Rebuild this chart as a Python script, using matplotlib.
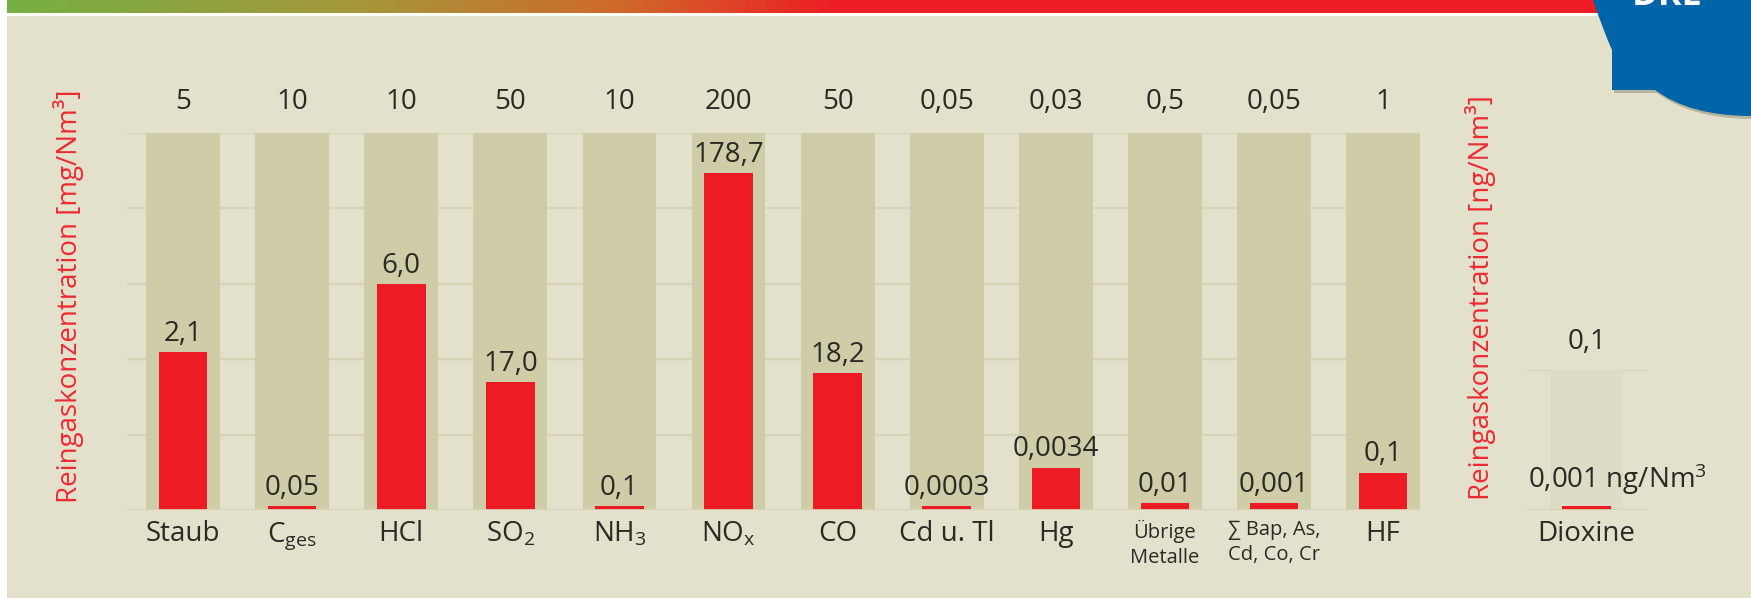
import numpy as np
import matplotlib
matplotlib.use('Agg')
import matplotlib.pyplot as plt
from matplotlib.patches import Rectangle, PathPatch
from matplotlib.path import Path
from matplotlib.colors import LinearSegmentedColormap

plt.rcParams['font.family'] = ['Open Sans', 'DejaVu Sans']
plt.rcParams['mathtext.fontset'] = 'custom'
plt.rcParams['mathtext.rm'] = 'Open Sans'
plt.rcParams['mathtext.it'] = 'Open Sans'

# data
categories = ['Staub', r'$\mathregular{C_{ges}}$', 'HCl', r'$\mathregular{SO_2}$',
              r'$\mathregular{NH_3}$', r'$\mathregular{NO_x}$', 'CO', 'Cd u. Tl', 'Hg',
              'Übrige\nMetalle', '∑ Bap, As,\nCd, Co, Cr', 'HF']
limits = [5, 10, 10, 50, 10, 200, 50, 0.05, 0.03, 0.5, 0.05, 1]
limit_labels = ['5', '10', '10', '50', '10', '200', '50', '0,05', '0,03', '0,5', '0,05', '1']
values = [2.1, 0.05, 6.0, 17.0, 0.1, 178.7, 18.2, 0.0003, 0.0034, 0.01, 0.001, 0.1]
value_labels = ['2,1', '0,05', '6,0', '17,0', '0,1', '178,7', '18,2', '0,0003',
                '0,0034', '0,01', '0,001', '0,1']

diox_category = 'Dioxine'
diox_limit = 0.1
diox_limit_label = '0,1'
diox_value = 0.001
diox_value_label = r'0,001 ng/Nm$^{3}$'

BG = '#E3E1CC'
OLIVE = '#CFCCA8'
OLIVE_LIGHT = '#DEDCC5'
GRID = '#D5D2B6'
RED = '#ED1C24'
RED_TXT = '#EE2A30'
TXT = '#2B2926'

W, H = 1751, 598
fig = plt.figure(figsize=(W / 100, H / 100), dpi=100)
fig.patch.set_facecolor(BG)

# decoration layer in pixel coords
bg = fig.add_axes([0, 0, 1, 1], zorder=0)
bg.set_xlim(0, W)
bg.set_ylim(H, 0)
bg.axis('off')
bg.add_patch(Rectangle((0, 0), 7, H, color='white', lw=0))
bg.add_patch(Rectangle((7, 13), 1600, 3, color='white', lw=0))
cmap = LinearSegmentedColormap.from_list('band', [
    (0.0, '#76B044'), (0.22, '#A6963A'), (0.38, '#CF6A2B'),
    (0.52, '#EE1C25'), (1.0, '#EE1C25')])
bg.imshow(np.linspace(0, 1, 400)[None, :], cmap=cmap, aspect='auto',
          extent=(7, 1610, 13, 0), zorder=1)

verts = [(1593, 0), (1603, 30), (1612, 50), (1612, 90), (1655, 90),
         (1690, 116), (1751, 116), (1751, 0), (1593, 0)]
codes = [Path.MOVETO, Path.CURVE3, Path.CURVE3, Path.LINETO, Path.LINETO,
         Path.CURVE3, Path.CURVE3, Path.LINETO, Path.CLOSEPOLY]
shadow = Path([(x + 2, y + 3) for x, y in verts], codes)
bg.add_patch(PathPatch(shadow, fc='#8C8870', ec='none', alpha=0.5, zorder=2))
bg.add_patch(PathPatch(Path(verts, codes), fc='#0064A8', ec='none', zorder=3))
bg.text(1632, 5, 'DRE', color='white', fontsize=26, fontweight='bold',
        va='baseline', ha='left', zorder=4)

bg.text(69, 296, 'Reingaskonzentration [mg/Nm³]', rotation=90, color=RED_TXT,
        fontsize=20, ha='center', va='center')
bg.text(1480, 298, 'Reingaskonzentration [ng/Nm³]', rotation=90, color=RED_TXT,
        fontsize=20, ha='center', va='center')

MIN_PX = 4


def shown_heights(lims, vals, h_px):
    fr = np.array(vals) / np.array(lims)
    return np.maximum(fr, MIN_PX / h_px)


# main chart
ax = fig.add_axes([127 / W, 1 - 510.3 / H, (1420 - 127) / W, 377.6 / H], zorder=1)
ax.patch.set_visible(False)
x = np.arange(len(categories))
ax.set_xlim(-0.514, 11.338)
ax.set_ylim(0, 1)
for gy in np.arange(0.2, 1.01, 0.2):
    ax.axhline(gy, color=GRID, lw=1.6, zorder=0)
ax.axhline(0, color=GRID, lw=2, zorder=3)
ax.bar(x, np.ones(len(x)), width=0.676, color=OLIVE, zorder=1)
heights = shown_heights(limits, values, 377.6)
ax.bar(x, heights, width=0.445, color=RED, zorder=2)
for i in range(len(x)):
    ax.annotate(value_labels[i], (x[i], heights[i]), xytext=(0, 8),
                textcoords='offset points', ha='center', va='baseline',
                fontsize=20, color=TXT)
    ax.annotate(limit_labels[i], (x[i], 1), xytext=(0, 17),
                textcoords='offset points', ha='center', va='baseline',
                fontsize=20, color=TXT)
    small = '\n' in categories[i]
    ax.annotate(categories[i], (x[i], 0), xytext=(0, -7),
                textcoords='offset points', ha='center', va='top',
                fontsize=14.5 if small else 20, color=TXT,
                linespacing=1.3)
ax.axis('off')

# dioxine panel
ax2 = fig.add_axes([1527 / W, 1 - 510.3 / H, 121 / W, 140 / H], zorder=1)
ax2.patch.set_visible(False)
ax2.set_xlim(-0.546, 0.563)
ax2.set_ylim(0, 1)
ax2.axhline(1, color=GRID, lw=1.6, zorder=0)
ax2.axhline(0, color=GRID, lw=2, zorder=3)
ax2.bar([0], [1], width=0.676, color=OLIVE_LIGHT, zorder=1)
dh = shown_heights([diox_limit], [diox_value], 140)
ax2.bar([0], dh, width=0.445, color=RED, zorder=2)
ax2.annotate(diox_limit_label, (0, 1), xytext=(0, 15), textcoords='offset points',
             ha='center', va='baseline', fontsize=20, color=TXT)
ax2.annotate(diox_value_label, (-0.546, 0), xytext=(1, 16), textcoords='offset points',
             ha='left', va='baseline', fontsize=20, color=TXT)
ax2.annotate(diox_category, (0, 0), xytext=(0, -7), textcoords='offset points',
             ha='center', va='top', fontsize=20, color=TXT)
ax2.axis('off')

fig.savefig('out.png', dpi=100, facecolor=fig.get_facecolor())
